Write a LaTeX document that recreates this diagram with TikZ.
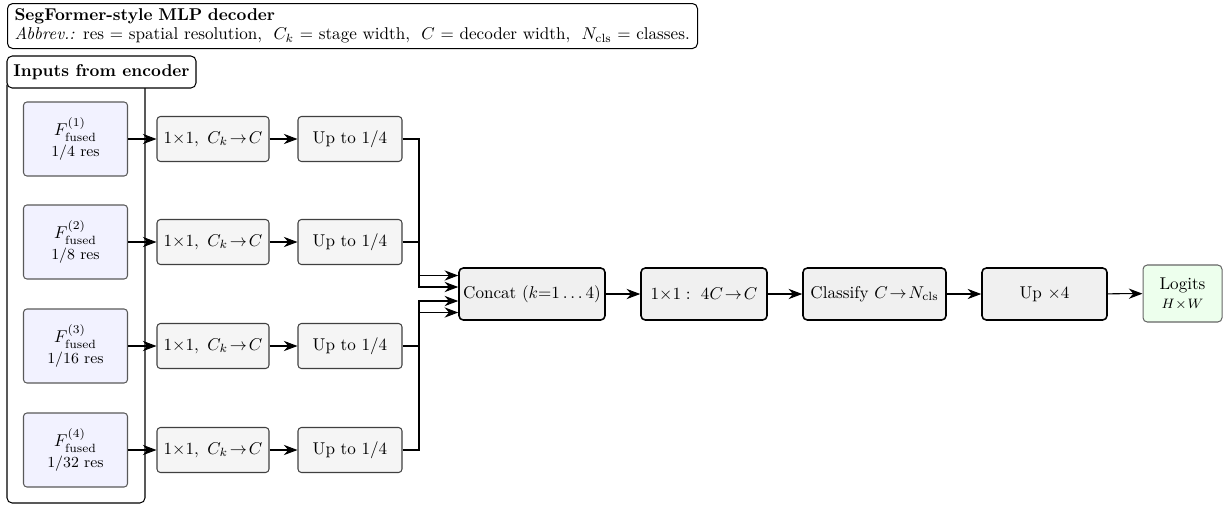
\documentclass[tikz,border=0pt]{standalone}
\usepackage{amsmath}
\usetikzlibrary{arrows.meta,positioning,calc}
\def\PX{0.585pt}
\begin{document}
\begin{tikzpicture}[x=0.585pt,y=-0.585pt,
  arr/.style={-{Stealth[length=8pt,width=6pt,inset=2.6pt]},line width=0.6pt},
  featbox/.style={draw=black!65,fill=blue!5,rounded corners=2pt,line width=0.6pt,align=center,inner sep=1pt,
     minimum width=104*\PX,minimum height=74*\PX},
  lanebox/.style={draw=black!75,fill=black!4,rounded corners=2pt,line width=0.6pt,inner sep=1pt,minimum height=45*\PX},
  pipebox/.style={draw=black,fill=black!6,rounded corners=2.5pt,line width=0.9pt,inner sep=1pt,minimum height=52*\PX},
  outbox/.style={draw=black!60,fill=green!7,rounded corners=2.5pt,line width=0.6pt,align=center,inner sep=1pt,
     minimum width=79*\PX,minimum height=57*\PX},
  labelbox/.style={draw=black,fill=white,rounded corners=3pt,line width=0.6pt}
]
\useasboundingbox (0,0) rectangle (1223,506);

% title
\node[labelbox,anchor=north west,align=left,text width=676*\PX,inner xsep=7*\PX,inner ysep=2pt,minimum height=45*\PX] (title) at (7,3)
 {\textbf{SegFormer-style MLP decoder}\\[-1pt]
  \textit{Abbrev.:} res $=$ spatial resolution, \ $C_k$ $=$ stage width, \ $C$ $=$ decoder width, \ $N_{\text{cls}}$ $=$ classes.};

% encoder container
\draw[rounded corners=3pt,line width=0.6pt] (7,80) rectangle (145,503);
\node[labelbox,minimum width=189*\PX,minimum height=32*\PX,inner sep=1pt] (inlab) at (101.5,72) {\textbf{Inputs from encoder}};

% feature boxes
\node[featbox] (f1) at (75.5,139) {$F^{(1)}_{\text{fused}}$\\{\small 1/4 res}};
\node[featbox] (f2) at (75.5,242) {$F^{(2)}_{\text{fused}}$\\{\small 1/8 res}};
\node[featbox] (f3) at (75.5,346) {$F^{(3)}_{\text{fused}}$\\{\small 1/16 res}};
\node[featbox] (f4) at (75.5,450) {$F^{(4)}_{\text{fused}}$\\{\small 1/32 res}};

% lane boxes
\foreach \i/\yy in {1/139,2/242,3/346,4/450}{
  \node[lanebox,minimum width=112*\PX] (p\i) at (213,\yy) {$1{\times}1,\ C_k\!\to\!C$};
  \node[lanebox,minimum width=104*\PX] (u\i) at (350,\yy) {Up to 1/4};
}

% pipeline
\node[pipebox,minimum width=146*\PX] (cc) at (532,294) {Concat ($k{=}1\ldots4$)};
\node[pipebox,minimum width=126*\PX] (fuse) at (704,294) {$1{\times}1:\ 4C\!\to\!C$};
\node[pipebox,minimum width=143*\PX] (cls) at (874.5,294) {Classify $C\!\to\!N_{\text{cls}}$};
\node[pipebox,minimum width=125*\PX] (up4) at (1044.5,294) {Up $\times4$};
\node[outbox] (logits) at (1182.5,293.5) {Logits\\[-1pt]{\footnotesize $H\!\times\!W$}};

% bus coordinate
\coordinate (bus) at (419,294);

% connectors
\foreach \i in {1,2,3,4}{
  \draw[arr] (f\i.east) -- (p\i.west);
  \draw[arr] (p\i.east) -- (u\i.west);
}
\draw[arr] (u1.east) -- (u1.east -| bus) |- ([yshift=18.5*\PX]cc.west);
\draw[arr] (u2.east) -- (u2.east -| bus) |- ([yshift=7*\PX]cc.west);
\draw[arr] (u3.east) -- (u3.east -| bus) |- ([yshift=-7*\PX]cc.west);
\draw[arr] (u4.east) -- (u4.east -| bus) |- ([yshift=-18.5*\PX]cc.west);

\draw[arr] (cc) -- (fuse);
\draw[arr] (fuse) -- (cls);
\draw[arr] (cls) -- (up4);
\draw[arr] (up4) -- (logits);
\end{tikzpicture}
\end{document}
